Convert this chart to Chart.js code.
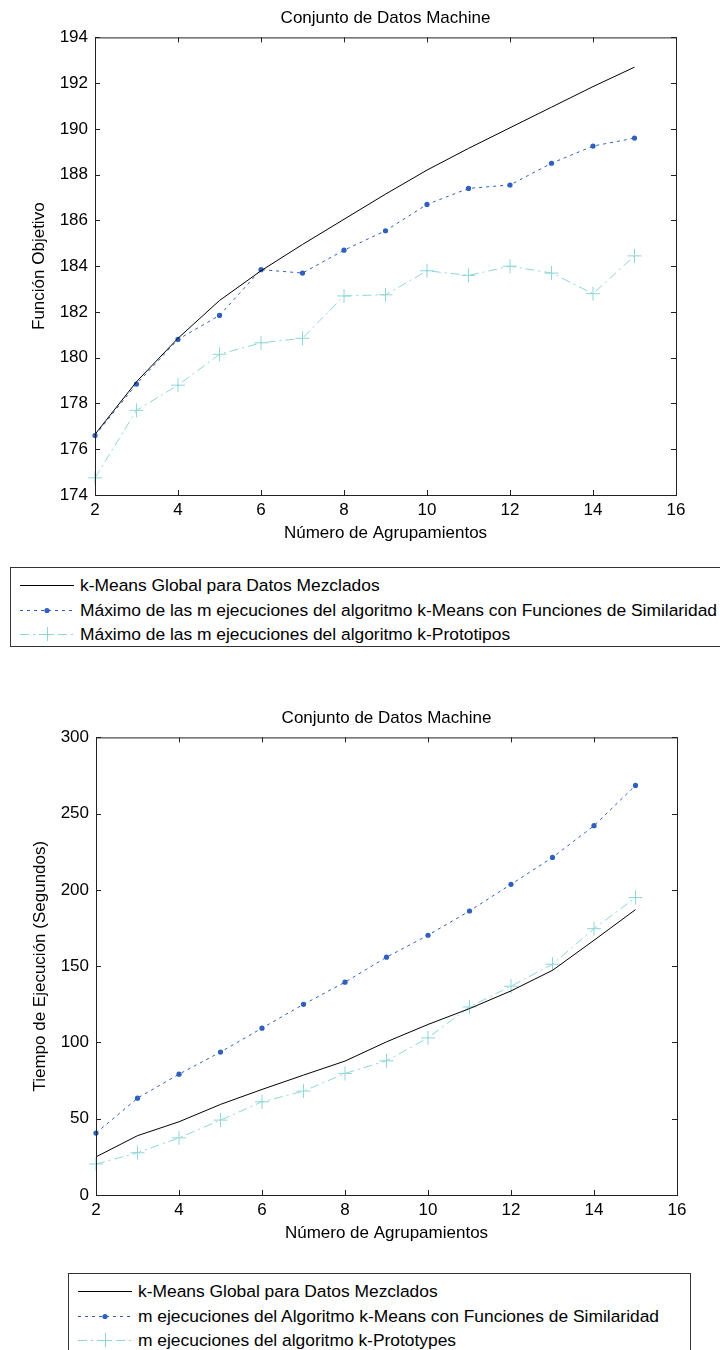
<!DOCTYPE html>
<html>
<head>
<meta charset="utf-8">
<title>Conjunto de Datos Machine</title>
<script src="https://cdn.jsdelivr.net/npm/chart.js"></script>
<style>
  body { margin: 0; width: 720px; height: 1350px; overflow: hidden; background: #fff; position: relative;
         font-family: "Liberation Sans", Arial, sans-serif; }
  .panel { position: absolute; }
  .legend { position: absolute; border: 1px solid #333; background: #fff; box-sizing: border-box; padding-top: 5px; }
  .legend .row { position: relative; height: 24.5px; line-height: 24.5px; font-size: 17.4px; color: #000; white-space: nowrap; }
  .legend canvas { position: absolute; left: 9px; top: 2px; }
  .legend span { position: absolute; left: 69px; top: 0; }
</style>
</head>
<body>

<div class="panel" style="left:0;top:0"><canvas id="objChart" width="720" height="550"></canvas></div>
<div class="legend" id="objLegend" style="left:10px;top:567px;width:780px;height:80px"></div>

<div class="panel" style="left:1px;top:700px"><canvas id="timeChart" width="720" height="550"></canvas></div>
<div class="legend" id="timeLegend" style="left:68px;top:1273px;width:623px;height:90px"></div>

<script>
// number of clusters (x axis)
const clusters = [2, 3, 4, 5, 6, 7, 8, 9, 10, 11, 12, 13, 14, 15];

// objective function values
const globalObj = [176.65, 178.95, 180.85, 182.5, 183.8, 184.95, 186.05, 187.15, 188.2, 189.15, 190.05, 190.95, 191.85, 192.7];
const simObj    = [176.6, 178.85, 180.8, 181.85, 183.85, 183.7, 184.7, 185.55, 186.7, 187.4, 187.55, 188.5, 189.25, 189.6];
const protoObj  = [174.75, 177.7, 178.8, 180.15, 180.65, 180.85, 182.7, 182.75, 183.8, 183.6, 184.0, 183.7, 182.8, 184.45];

// running time in seconds
const globalTime = [25, 38.9, 48, 59.4, 69.2, 78.6, 87.8, 100.4, 111.8, 122.2, 133.8, 147.3, 167, 187.1];
const simTime    = [40.6, 63.5, 79.2, 93.7, 109.4, 125, 139.5, 155.9, 170.3, 186.2, 203.7, 221.3, 242.1, 268.5];
const protoTime  = [20.3, 27.7, 37.5, 49.1, 61.1, 68.1, 79.7, 88, 103, 123.3, 136.9, 151.3, 174.6, 195];

const objLabels = [
  'k-Means Global para Datos Mezclados',
  'Máximo de las m ejecuciones del algoritmo k-Means con Funciones de Similaridad',
  'Máximo de las m ejecuciones del algoritmo k-Prototipos'
];
const timeLabels = [
  'k-Means Global para Datos Mezclados',
  'm ejecuciones del Algoritmo k-Means con Funciones de Similaridad',
  'm ejecuciones del algoritmo k-Prototypes'
];

const FONT = '"Liberation Sans", Arial, sans-serif';
const BLUE = '#2f5fbf';
const CYAN = '#8fd6d6';

const toXY = vals => clusters.map((k, i) => ({ x: k, y: vals[i] }));

function makeDatasets(labels, a, b, c) {
  return [
    { label: labels[0], data: toXY(a), borderColor: '#000', borderWidth: 1, pointRadius: 0, clip: false },
    { label: labels[1], data: toXY(b), borderColor: BLUE, borderWidth: 1, borderDash: [3, 4],
      pointStyle: 'circle', pointRadius: 2.6, pointBackgroundColor: BLUE, pointBorderWidth: 0, clip: false },
    { label: labels[2], data: toXY(c), borderColor: CYAN, borderWidth: 1, borderDash: [9, 4, 2, 4],
      pointStyle: 'cross', pointRadius: 7, pointBorderColor: CYAN, pointBorderWidth: 1, clip: false }
  ];
}

// matlab-like axes box with inward ticks on all four sides
const boxTicks = {
  id: 'boxTicks',
  afterDraw(chart) {
    const { ctx, chartArea: a, scales: { x, y } } = chart;
    const len = 5;
    ctx.save();
    ctx.strokeStyle = '#222';
    ctx.lineWidth = 1;
    ctx.setLineDash([]);
    ctx.strokeRect(a.left + 0.5, a.top + 0.5, a.right - a.left, a.bottom - a.top);
    ctx.beginPath();
    x.ticks.forEach(t => {
      const px = Math.round(x.getPixelForValue(t.value)) + 0.5;
      ctx.moveTo(px, a.bottom); ctx.lineTo(px, a.bottom - len);
      ctx.moveTo(px, a.top); ctx.lineTo(px, a.top + len);
    });
    y.ticks.forEach(t => {
      const py = Math.round(y.getPixelForValue(t.value)) + 0.5;
      ctx.moveTo(a.left, py); ctx.lineTo(a.left + len, py);
      ctx.moveTo(a.right, py); ctx.lineTo(a.right - len, py);
    });
    ctx.stroke();
    ctx.restore();
  }
};

function makeChart(id, datasets, yMin, yMax, yStep, yTitle) {
  const font = { family: FONT, size: 17 };
  return new Chart(document.getElementById(id), {
    type: 'line',
    data: { datasets },
    plugins: [boxTicks],
    options: {
      responsive: false,
      animation: false,
      layout: { padding: { left: 0, right: 44, top: 0, bottom: 4 } },
      plugins: {
        legend: { display: false },
        tooltip: { enabled: false },
        title: {
          display: true, text: 'Conjunto de Datos Machine', fullSize: false, color: '#000',
          font: { family: FONT, size: 17, weight: 'normal' }, padding: { top: 8, bottom: 9 }
        }
      },
      scales: {
        x: {
          type: 'linear', min: 2, max: 16,
          grid: { display: false, drawTicks: false }, border: { display: false },
          ticks: { stepSize: 2, padding: 5, color: '#000', font, maxRotation: 0 },
          title: { display: true, text: 'Número de Agrupamientos', color: '#000', font, padding: { top: 0, bottom: 2 } },
          afterFit(s) { s.height = 51; }
        },
        y: {
          min: yMin, max: yMax,
          grid: { display: false, drawTicks: false }, border: { display: false },
          ticks: { stepSize: yStep, padding: 7, color: '#000', font },
          title: { display: true, text: yTitle, color: '#000', font, padding: { top: 29, bottom: 0 } },
          afterFit(s) { s.width = 95; }
        }
      }
    }
  });
}

// legend sample: line segment with the dataset's dash and marker
function drawSample(cv, ds) {
  const ctx = cv.getContext('2d');
  const w = cv.width, h = cv.height, cy = h / 2;
  ctx.strokeStyle = ds.borderColor;
  ctx.lineWidth = ds.borderWidth;
  ctx.setLineDash(ds.borderDash || []);
  ctx.beginPath(); ctx.moveTo(0, cy + 0.5); ctx.lineTo(w, cy + 0.5); ctx.stroke();
  ctx.setLineDash([]);
  const cx = w / 2;
  if (ds.pointStyle === 'circle' && ds.pointRadius) {
    ctx.fillStyle = ds.pointBackgroundColor;
    ctx.beginPath(); ctx.arc(cx, cy + 0.5, ds.pointRadius, 0, Math.PI * 2); ctx.fill();
  } else if (ds.pointStyle === 'cross') {
    const r = ds.pointRadius;
    ctx.strokeStyle = ds.pointBorderColor;
    ctx.beginPath();
    ctx.moveTo(cx - r, cy + 0.5); ctx.lineTo(cx + r, cy + 0.5);
    ctx.moveTo(cx + 0.5, cy - r); ctx.lineTo(cx + 0.5, cy + r);
    ctx.stroke();
  }
}

function buildLegend(id, datasets) {
  const box = document.getElementById(id);
  datasets.forEach(ds => {
    const row = document.createElement('div');
    row.className = 'row';
    const cv = document.createElement('canvas');
    cv.width = 54; cv.height = 20;
    drawSample(cv, ds);
    const span = document.createElement('span');
    span.textContent = ds.label;
    row.appendChild(cv);
    row.appendChild(span);
    box.appendChild(row);
  });
}

const objSets = makeDatasets(objLabels, globalObj, simObj, protoObj);
const timeSets = makeDatasets(timeLabels, globalTime, simTime, protoTime);

makeChart('objChart', objSets, 174, 194, 2, 'Función Objetivo');
makeChart('timeChart', timeSets, 0, 300, 50, 'Tiempo de Ejecución (Segundos)');

buildLegend('objLegend', objSets);
buildLegend('timeLegend', timeSets);
</script>
</body>
</html>
